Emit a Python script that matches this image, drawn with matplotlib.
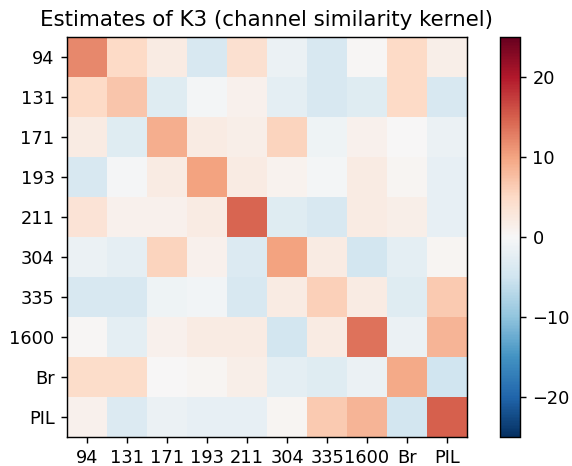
import numpy as np
import matplotlib
matplotlib.use("Agg")
import matplotlib.pyplot as plt

channels = ["94", "131", "171", "193", "211", "304", "335", "1600", "Br", "PIL"]

row_94 = [12.0, 5.0, 2.0, -4.0, 4.0, -1.5, -4.0, 0.3, 5.0, 1.5]
row_131 = [5.0, 7.0, -3.0, -0.5, 1.0, -2.5, -4.0, -3.0, 5.0, -4.0]
row_171 = [2.0, -3.0, 9.0, 2.0, 1.5, 5.5, -1.0, 1.0, 0.0, -1.5]
row_193 = [-4.0, -0.3, 2.0, 10.0, 2.0, 0.8, -0.5, 2.0, 0.5, -2.0]
row_211 = [3.5, 1.0, 1.0, 2.0, 14.5, -3.0, -4.0, 2.0, 1.5, -2.0]
row_304 = [-1.5, -2.3, 5.5, 1.0, -3.5, 10.0, 2.0, -4.5, -2.5, 0.4]
row_335 = [-4.0, -4.0, -1.0, -0.6, -4.0, 2.0, 6.0, 2.0, -3.0, 6.5]
row_1600 = [0.2, -2.5, 1.0, 2.0, 2.0, -4.5, 2.0, 13.5, -1.5, 8.5]
row_br = [4.5, 4.5, 0.0, 0.5, 1.5, -2.5, -3.0, -1.5, 9.5, -5.0]
row_pil = [1.0, -3.5, -1.5, -2.0, -2.0, 0.5, 6.5, 8.5, -4.5, 15.0]

K3 = np.array([row_94, row_131, row_171, row_193, row_211,
               row_304, row_335, row_1600, row_br, row_pil])

W, H, DPI = 572, 466, 128
fig = plt.figure(figsize=(W / DPI, H / DPI), dpi=DPI)
ax = fig.add_axes([67 / W, (H - 437) / H, 400 / W, 400 / H])
cax = fig.add_axes([500 / W, (H - 437) / H, 20 / W, 400 / H])

im = ax.imshow(K3, cmap="RdBu_r", vmin=-25, vmax=25, aspect="auto")
ax.set_xticks(range(len(channels)))
ax.set_xticklabels(channels)
ax.set_yticks(range(len(channels)))
ax.set_yticklabels(channels)
ax.set_title("Estimates of K3 (channel similarity kernel)")
fig.colorbar(im, cax=cax)

fig.savefig("out.png", dpi=DPI)
